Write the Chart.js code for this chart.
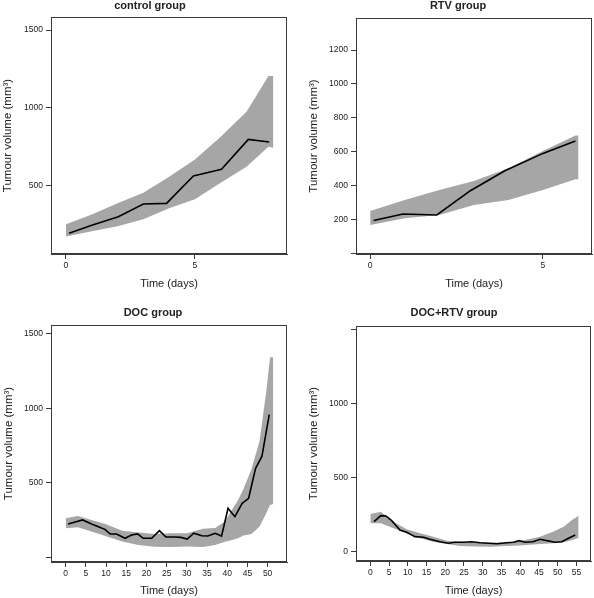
<!DOCTYPE html>
<html>
<head>
<meta charset="utf-8">
<script src="https://cdn.jsdelivr.net/npm/chart.js@4"></script>
<style>
  html, body { margin: 0; padding: 0; background: #fff; }
  #wrap { position: relative; width: 594px; height: 598px; }
  .panel { position: absolute; width: 297px; height: 299px; }
</style>
</head>
<body>
<div id="wrap">
  <div class="panel" style="left:0;top:0"><canvas id="ctrlChart" width="297" height="299"></canvas></div>
  <div class="panel" style="left:297px;top:0"><canvas id="rtvChart" width="297" height="299"></canvas></div>
  <div class="panel" style="left:0;top:299px"><canvas id="docChart" width="297" height="299"></canvas></div>
  <div class="panel" style="left:297px;top:299px"><canvas id="docRtvChart" width="297" height="299"></canvas></div>
</div>
<script>
// --- data ---

// control group
const ctrlDays = [0.12, 1, 2.03, 3, 3.9, 4.94, 6.03, 7.07, 7.88];
const ctrlMean = [191, 243, 298, 380, 384, 560, 603, 796, 779];
const ctrlBandDays = [0, 1, 2, 3, 4, 5, 6, 7, 7.85, 8.04];
const ctrlUpper = [249, 313, 384, 453, 556, 667, 813, 974, 1204, 1204];
const ctrlLower = [170, 205, 237, 281, 352, 410, 517, 620, 749, 742];
const ctrlXTicks = [0, 5];
const ctrlYTicks = [500, 1000, 1500];
const ctrlYLabels = ['500', '1000', '1500'];

// RTV group
const rtvDays = [0.1, 0.95, 1.93, 2.9, 3.9, 5.0, 5.94];
const rtvMean = [196, 234, 228, 371, 489, 591, 664];
const rtvBandDays = [0, 1, 2, 3, 4, 5, 5.94, 6.03];
const rtvUpper = [251, 316, 375, 428, 503, 605, 696, 696];
const rtvLower = [169, 208, 228, 287, 316, 375, 438, 438];
const rtvXTicks = [0, 5];
const rtvYTicks = [0, 200, 400, 600, 800, 1000, 1200];
const rtvYLabels = ['', '200', '400', '600', '800', '1000', '1200'];

// DOC group
const docDays = [0.6, 4.2, 6.4, 8.1, 9.7, 11, 12.6, 14.7, 16.3, 17.8, 19.2, 21.3, 23.2, 24.8, 27,
  28.5, 30.1, 31.7, 33.7, 35.2, 37, 38.6, 40.2, 41.9, 43.7, 45.3, 47, 48.6, 50.4];
const docMean = [222, 249, 222, 204, 186, 155, 155, 126, 148, 155, 126, 126, 177, 135, 135,
  132, 121, 160, 143, 141, 159, 141, 327, 271, 361, 395, 595, 678, 958];
const docBandDays = [0, 3, 6, 10, 14, 18, 22, 26, 30, 34, 37, 39.4, 41, 42.7, 44, 46, 48, 49.75, 50.6, 51.4];
const docUpper = [260, 276, 252, 220, 177, 164, 155, 159, 159, 190, 195, 238, 310, 383, 457, 590, 780, 1130, 1343, 1343];
const docLower = [193, 200, 175, 140, 105, 81, 69, 68, 70, 68, 80, 103, 112, 126, 145, 155, 205, 300, 350, 356];
const docXTicks = [0, 5, 10, 15, 20, 25, 30, 35, 40, 45, 50];
const docYTicks = [0, 500, 1000, 1500];
const docYLabels = ['', '500', '1000', '1500'];

// DOC+RTV group
const docRtvDays = [1.0, 2.8, 4.2, 5.7, 7.9, 9.7, 11.9, 14.2, 15.9, 18.6, 20.8, 22.6, 24.8, 27.1,
  29.3, 31.5, 33.8, 36.4, 38.2, 39.7, 41.3, 43.4, 45.3, 47.1, 49.3, 51.1, 52.9, 54.7];
const docRtvMean = [200, 241, 239, 207, 144, 128, 99, 95, 81, 65, 54, 61, 61, 65,
  58, 54, 51, 58, 61, 72, 61, 65, 81, 72, 61, 65, 88, 110];
const docRtvBandDays = [0, 2.8, 6.2, 9.7, 13.3, 16.8, 20.4, 24, 28, 32, 36, 40, 45.3, 48.9, 51.6, 53.8, 55.6];
const docRtvUpper = [252, 268, 200, 149, 122, 99, 72, 65, 62, 58, 60, 70, 99, 133, 166, 211, 240];
const docRtvLower = [189, 189, 155, 122, 88, 65, 49, 36, 33, 31, 35, 40, 49, 54, 62, 75, 92];
const docRtvXTicks = [0, 5, 10, 15, 20, 25, 30, 35, 40, 45, 50, 55];
const docRtvYTicks = [0, 500, 1000, 1500];
const docRtvYLabels = ['0', '500', '1000', ''];

// --- drawing ---

const W = 297, H = 299;
const FONT = '"Liberation Sans", Arial, sans-serif';
const AXIS_COLOR = '#3a3a3a';
const TEXT_COLOR = '#222';
const BAND_COLOR = '#a6a6a6';

// box round the plot area, as R draws it
const framePlugin = {
  id: 'frame',
  afterDraw(chart) {
    const a = chart.chartArea, ctx = chart.ctx;
    ctx.save();
    ctx.strokeStyle = AXIS_COLOR;
    ctx.lineWidth = 1;
    ctx.strokeRect(Math.round(a.left) + 0.5, Math.round(a.top) + 0.5,
      Math.round(a.right - a.left) - 1, Math.round(a.bottom - a.top) - 1);
    ctx.restore();
  }
};

// panel heading, placed where the reference has it
const panelTitlePlugin = {
  id: 'panelTitle',
  afterDraw(chart, args, opts) {
    const ctx = chart.ctx;
    ctx.save();
    ctx.font = 'bold 11px ' + FONT;
    ctx.fillStyle = TEXT_COLOR;
    ctx.textAlign = 'center';
    ctx.textBaseline = 'middle';
    ctx.fillText(opts.text, opts.x, opts.y);
    ctx.restore();
  }
};

function toPoints(xs, ys) {
  return xs.map((x, i) => ({ x: x, y: ys[i] }));
}

function makePanel(id, spec) {
  const box = spec.box;
  new Chart(document.getElementById(id), {
    type: 'line',
    data: {
      datasets: [
        {
          // upper edge of the band, filled down to the lower edge
          data: toPoints(spec.bandDays, spec.upper),
          borderWidth: 0,
          borderColor: 'rgba(0,0,0,0)',
          backgroundColor: BAND_COLOR,
          pointRadius: 0,
          fill: '+1',
          order: 2
        },
        {
          data: toPoints(spec.bandDays, spec.lower),
          borderWidth: 0,
          borderColor: 'rgba(0,0,0,0)',
          pointRadius: 0,
          fill: false,
          order: 3
        },
        {
          // mean line, drawn on top
          data: toPoints(spec.days, spec.mean),
          borderColor: '#000',
          borderWidth: 1.6,
          pointRadius: 0,
          fill: false,
          tension: 0,
          order: 0
        }
      ]
    },
    options: {
      responsive: false,
      animation: false,
      layout: { padding: { left: 0, top: box.top, right: W - box.right, bottom: 0 } },
      plugins: {
        legend: { display: false },
        tooltip: { enabled: false },
        panelTitle: { text: spec.title, x: spec.titleX, y: spec.titleY }
      },
      scales: {
        x: {
          type: 'linear',
          min: spec.xMin,
          max: spec.xMax,
          afterBuildTicks: axis => { axis.ticks = spec.xTicks.map(v => ({ value: v })); },
          afterFit: scale => { scale.height = H - box.bottom; },
          grid: { drawOnChartArea: false, drawTicks: true, tickLength: 5, color: AXIS_COLOR },
          border: { display: true, color: AXIS_COLOR },
          ticks: {
            autoSkip: false, maxRotation: 0, padding: 2,
            color: TEXT_COLOR, font: { family: FONT, size: 8.5 },
            callback: v => String(v)
          },
          title: {
            display: true, text: 'Time (days)', color: TEXT_COLOR,
            font: { family: FONT, size: 11 },
            padding: { top: 0, bottom: spec.xTitlePad }
          }
        },
        y: {
          type: 'linear',
          min: spec.yMin,
          max: spec.yMax,
          afterBuildTicks: axis => { axis.ticks = spec.yTicks.map(v => ({ value: v })); },
          afterFit: scale => { scale.width = box.left; },
          grid: { drawOnChartArea: false, drawTicks: true, tickLength: 5, color: AXIS_COLOR },
          border: { display: true, color: AXIS_COLOR },
          ticks: {
            padding: 3, color: TEXT_COLOR, font: { family: FONT, size: 8.5 },
            callback: function(v) {
              const i = spec.yTicks.indexOf(v);
              return i >= 0 ? spec.yLabels[i] : '';
            }
          },
          title: {
            display: true, text: 'Tumour volume (mm³)', color: TEXT_COLOR,
            font: { family: FONT, size: 11.5 },
            padding: { top: spec.yTitlePad, bottom: 0 }
          }
        }
      }
    },
    plugins: [framePlugin, panelTitlePlugin]
  });
}

makePanel('ctrlChart', {
  title: 'control group', titleX: 150, titleY: 6,
  box: { left: 51, top: 17, right: 287, bottom: 254 },
  xMin: -0.58, xMax: 8.57, yMin: 58, yMax: 1584,
  xTicks: ctrlXTicks, yTicks: ctrlYTicks, yLabels: ctrlYLabels,
  days: ctrlDays, mean: ctrlMean, bandDays: ctrlBandDays, upper: ctrlUpper, lower: ctrlLower,
  yTitlePad: 1.4, xTitlePad: 8.4
});

makePanel('rtvChart', {
  title: 'RTV group', titleX: 161, titleY: 6,
  box: { left: 59, top: 18, right: 295, bottom: 254 },
  xMin: -0.41, xMax: 6.42, yMin: -2, yMax: 1389,
  xTicks: rtvXTicks, yTicks: rtvYTicks, yLabels: rtvYLabels,
  days: rtvDays, mean: rtvMean, bandDays: rtvBandDays, upper: rtvUpper, lower: rtvLower,
  yTitlePad: 9.8, xTitlePad: 8.4
});

makePanel('docChart', {
  title: 'DOC group', titleX: 153, titleY: 14,
  box: { left: 51, top: 26, right: 287, bottom: 263 },
  xMin: -3.64, xMax: 54.8, yMin: -33.6, yMax: 1560,
  xTicks: docXTicks, yTicks: docYTicks, yLabels: docYLabels,
  days: docDays, mean: docMean, bandDays: docBandDays, upper: docUpper, lower: docLower,
  yTitlePad: 2.4, xTitlePad: 0
});

makePanel('docRtvChart', {
  title: 'DOC+RTV group', titleX: 157, titleY: 14,
  box: { left: 59, top: 27, right: 294, bottom: 262 },
  xMin: -3.82, xMax: 58.9, yMin: -65.5, yMax: 1522,
  xTicks: docRtvXTicks, yTicks: docRtvYTicks, yLabels: docRtvYLabels,
  days: docRtvDays, mean: docRtvMean, bandDays: docRtvBandDays, upper: docRtvUpper, lower: docRtvLower,
  yTitlePad: 9.8, xTitlePad: 0
});
</script>
</body>
</html>
